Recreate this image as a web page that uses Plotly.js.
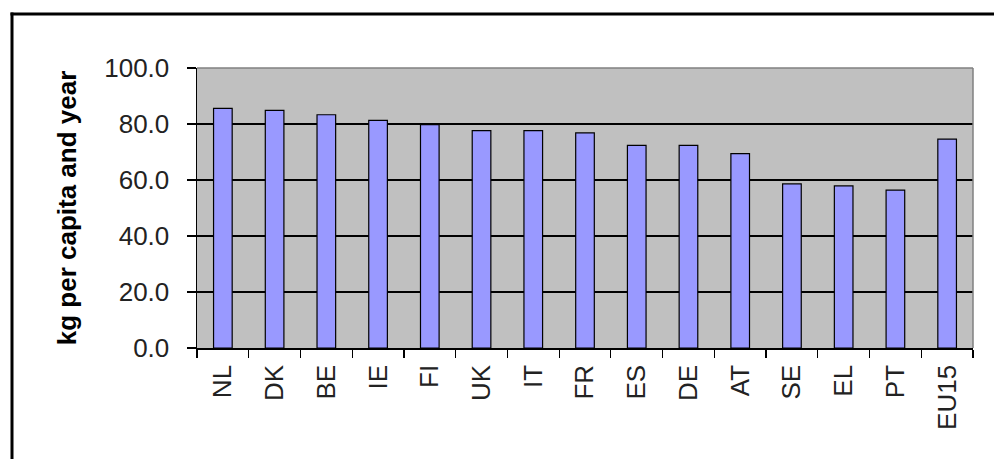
<!DOCTYPE html>
<html>
<head>
<meta charset="utf-8">
<script src="https://cdn.plot.ly/plotly-3.0.1.min.js"></script>
<style>
  html, body { margin: 0; padding: 0; background: #ffffff; }
  #chart { width: 994px; height: 459px; }
</style>
</head>
<body>
<div id="chart"></div>
<script>
// Packaging waste per head, by country
const countries = ["NL", "DK", "BE", "IE", "FI", "UK", "IT", "FR", "ES", "DE", "AT", "SE", "EL", "PT", "EU15"];
const kgPerCapita = [85.6, 84.9, 83.3, 81.3, 79.8, 77.6, 77.6, 76.8, 72.4, 72.4, 69.4, 58.6, 57.9, 56.4, 74.6];
const yTicks = [0, 20, 40, 60, 80, 100];

const W = 994, H = 459;
const margin = { l: 197, r: 21, t: 68, b: 111 };
const plotW = W - margin.l - margin.r;
const plotH = H - margin.t - margin.b;

// pixel position -> paper coordinate, for the frame drawn around the chart
const px = x => (x - margin.l) / plotW;
const py = y => (H - margin.b - y) / plotH;

const font = "Liberation Sans, Arial, sans-serif";

const trace = {
  type: "bar",
  x: countries,
  y: kgPerCapita,
  width: 0.36,
  marker: { color: "#9999ff", line: { color: "#000000", width: 1.2 } },
  hoverinfo: "x+y"
};

const layout = {
  width: W,
  height: H,
  margin: margin,
  paper_bgcolor: "#ffffff",
  plot_bgcolor: "#c0c0c0",
  showlegend: false,
  font: { family: font, color: "#1a1a1a" },
  xaxis: {
    type: "category",
    tickangle: -90,
    ticks: "outside",
    tickson: "boundaries",
    ticklen: 8,
    tickwidth: 1.2,
    tickcolor: "#000000",
    ticklabelstandoff: 5,
    showline: true,
    linecolor: "#000000",
    linewidth: 1.5,
    showgrid: false,
    tickfont: { family: font, size: 26, color: "#222222" },
    fixedrange: true
  },
  yaxis: {
    range: [0, 100],
    tickvals: yTicks,
    tickformat: ".1f",
    ticks: "outside",
    ticklen: 9,
    tickwidth: 1.2,
    tickcolor: "#000000",
    ticklabelstandoff: 12,
    showline: true,
    linecolor: "#000000",
    linewidth: 1.5,
    showgrid: true,
    gridcolor: "#000000",
    gridwidth: 1.3,
    zeroline: false,
    tickfont: { family: font, size: 26, color: "#222222" },
    title: {
      text: "<b>kg per capita and year</b>",
      font: { family: font, size: 26, color: "#000000" },
      standoff: 20
    },
    fixedrange: true
  },
  shapes: [
    // plot area edges on the top and right
    { type: "line", xref: "paper", yref: "paper", x0: 0, x1: 1, y0: 1, y1: 1,
      line: { color: "#808080", width: 1.5 }, layer: "above" },
    { type: "line", xref: "paper", yref: "paper", x0: 1, x1: 1, y0: 0, y1: 1,
      line: { color: "#808080", width: 1.5 }, layer: "above" },
    // outer frame of the chart
    { type: "line", xref: "paper", yref: "paper", x0: px(12), x1: px(12), y0: py(12.5), y1: py(H + 5),
      line: { color: "#000000", width: 3 } },
    { type: "line", xref: "paper", yref: "paper", x0: px(10.5), x1: px(W + 5), y0: py(14), y1: py(14),
      line: { color: "#000000", width: 3 } }
  ]
};

Plotly.newPlot("chart", [trace], layout, { displayModeBar: false, staticPlot: true });
</script>
</body>
</html>
